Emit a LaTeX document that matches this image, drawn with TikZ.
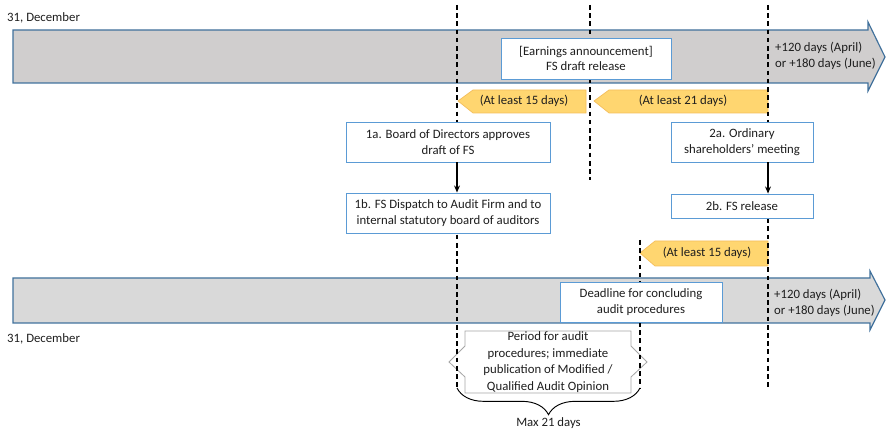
\documentclass[tikz,border=0pt]{standalone}
\usepackage{fontspec}
\setmainfont{Carlito}
\usetikzlibrary{arrows.meta,decorations.pathreplacing}

\definecolor{bandgrey}{HTML}{D0CECE}
\definecolor{bandgreylight}{HTML}{D9D9D9}
\definecolor{bandline}{HTML}{41719C}
\definecolor{boxline}{HTML}{5B9BD5}
\definecolor{delayfill}{HTML}{FFD670}
\definecolor{delayline}{HTML}{F4BE5C}
\definecolor{calloutline}{HTML}{A6A6A6}
\definecolor{txt}{HTML}{1E1E1E}

\tikzset{
  band/.style={draw=bandline, line width=1pt},
  eventbox/.style={draw=boxline, fill=white, line width=0.8pt, align=center, inner sep=0pt, text=txt},
  delay/.style={fill=delayfill, draw=delayline, line width=0.6pt},
  limit/.style={dash pattern=on 4pt off 3pt, line width=1.4pt},
  link/.style={-{Stealth[length=6pt,width=5pt]}, line width=1.4pt},
  plain/.style={text=txt, inner sep=0pt}
}

\begin{document}
\begin{tikzpicture}[x=0.03cm, y=-0.03cm, font=\fontsize{10.9}{13.4}\selectfont]
    \useasboundingbox (0,0) rectangle (887,432);

    % Timeline top (deadline for the board)
    \filldraw[band, fill=bandgrey] (13,30) -- (868,30) -- (868,22) -- (885,57) -- (868,91) -- (868,83) -- (13,83) -- cycle;
    % Timeline bottom (audit)
    \filldraw[band, fill=bandgreylight] (13,278) -- (870,278) -- (870,271) -- (885,300) -- (870,330) -- (870,323) -- (13,323) -- cycle;

    % Key dates
    \coordinate (D1top) at (457,5);
    \coordinate (D1bot) at (457,388);
    \coordinate (D2top) at (590,5);
    \coordinate (D2bot) at (590,180);
    \coordinate (D3top) at (768,5);
    \coordinate (D3bot) at (768,390);
    \coordinate (D4top) at (640,240);
    \coordinate (D4bot) at (640,388);

    % Minimum delays (yellow arrows)
    \filldraw[delay] (458,101) -- (473,90) -- (586,90) -- (586,113) -- (473,113) -- cycle;
    \filldraw[delay] (594,101) -- (609,90) -- (768,90) -- (768,113) -- (609,113) -- cycle;
    \filldraw[delay] (640,253) -- (655,241) -- (768,241) -- (768,266) -- (655,266) -- cycle;
    \node[plain] (least15a) at (524,101) {(At least 15 days)};
    \node[plain] (least21) at (683,101) {(At least 21 days)};
    \node[plain] (least15b) at (707,253) {(At least 15 days)};

    % Callout for the audit period
    \filldraw[draw=calloutline, fill=white, line width=0.7pt] (465,331) -- (631,331) -- (631,346) -- (647,362) -- (631,377) -- (631,393)
        -- (465,393) -- (465,377) -- (449,362) -- (465,346) -- cycle;

    % Dashed lines
    \draw[limit] (D1top) -- (D1bot);
    \draw[limit] (D2top) -- (D2bot);
    \draw[limit] (D3top) -- (D3bot);
    \draw[limit] (D4top) -- (D4bot);

    % Events
    \node[eventbox, minimum width=5.1cm, minimum height=1.23cm] (earnings) at (586,58.5) {[Earnings announcement]\\FS draft release};
    \node[eventbox, minimum width=6.12cm, minimum height=1.2cm] (board) at (448,142) {1a. Board of Directors approves\\draft of FS};
    \node[eventbox, minimum width=6.12cm, minimum height=1.2cm] (dispatch) at (448,213) {1b. FS Dispatch to Audit Firm and to\\internal statutory board of auditors};
    \node[eventbox, minimum width=4.26cm, minimum height=1.2cm] (meeting) at (742,142) {2a. Ordinary\\shareholders’ meeting};
    \node[eventbox, minimum width=4.26cm, minimum height=0.72cm] (release) at (742,206) {2b. FS release};
    \node[eventbox, minimum width=4.86cm, minimum height=1.2cm] (deadline) at (641,302) {Deadline for concluding\\audit procedures};

    % Links between events
    \draw[link] (board.south -| D1top) -- (dispatch.north -| D1top);
    \draw[link] (meeting.south -| D3top) -- (release.north -| D3top);

    % Texts
    \node[plain, anchor=west] (dec1) at (7,18) {31, December};
    \node[plain, anchor=west] (dec2) at (7,339) {31, December};
    \node[plain, anchor=west, align=left] (end1) at (775,56) {+120 days (April)\\or +180 days (June)};
    \node[plain, anchor=west, align=left] (end2) at (774,303) {+120 days (April)\\or +180 days (June)};
    \node[plain, align=center, font=\fontsize{10.9}{14.2}\selectfont] (period) at (548,362) {Period for audit\\procedures; immediate\\publication of Modified /\\Qualified Audit Opinion};

    % Brace
    \draw[decorate, decoration={brace, mirror, amplitude=0.8cm}, line width=0.8pt] (D1bot) -- (D4bot)
        node[midway, below=0.86cm, plain] (max21) {Max 21 days};
\end{tikzpicture}
\end{document}
